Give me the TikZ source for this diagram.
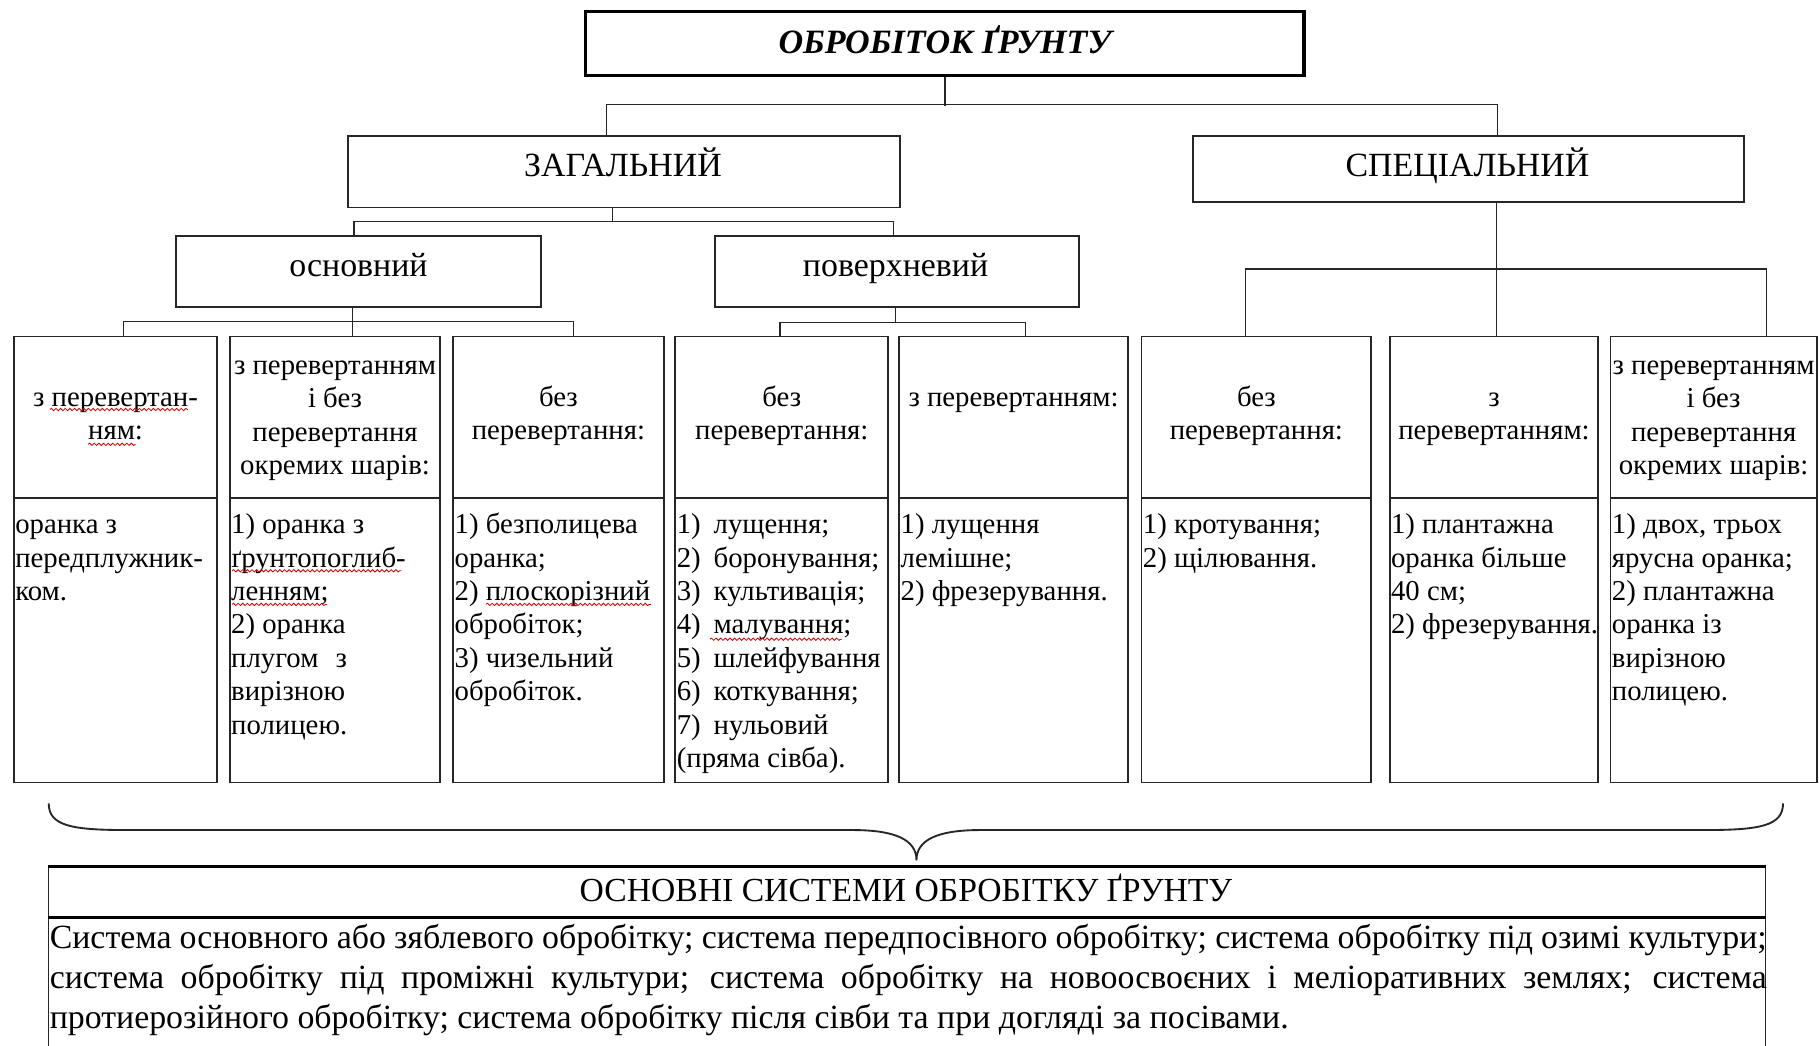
\documentclass[tikz,border=0pt]{standalone}
\usepackage{fontspec}
\setmainfont{Liberation Serif}
\usetikzlibrary{fit,decorations.pathmorphing}
\newcommand\mkcol[7]{%
  \node[bx,fit={(#2,290) (#3,429)}] (h#1) {};
  \node[bx,fit={(#2,429) (#3,674.5)}] (b#1) {};
  \node[headtxt] (ht#1) at ({(#2+#3)/2},#4) {\strut #5\strut};
  \node[bodytxt] (bt#1) at ({#2+#6},439.3) {\strut #7};
}
\begin{document}
\begin{tikzpicture}[x=0.5pt,y=-0.5pt,
  bx/.style={draw=black!85,line width=0.8pt,inner sep=0pt},
  topbx/.style={draw=black,line width=1.4pt,inner sep=0pt},
  conn/.style={draw=black!85,line width=0.6pt},
  lvl/.style={font=\fontsize{14.6}{17}\selectfont,anchor=base,inner sep=0pt},
  headtxt/.style={font=\fontsize{12.4}{14.4}\selectfont,align=center,inner sep=0pt},
  bodytxt/.style={font=\fontsize{12.4}{14.43}\selectfont,align=left,inner sep=0pt,
    anchor=north west},
  wavy/.style={draw=red!85!black,line width=0.35pt,decorate,
    decoration={snake,amplitude=0.5pt,segment length=2pt}},
]
\useasboundingbox (0,0) rectangle (1568,901);
\fill[white] (0,0) rectangle (1568,901);

% ---- upper levels
\node[topbx,fit={(505,10) (1124,65)}] (top) {};
\node[lvl,font=\fontsize{14.7}{17}\selectfont\bfseries\itshape] (topt) at (814.5,46) {ОБРОБІТОК ҐРУНТУ};

\node[bx,fit={(300,117.2) (776,178.8)}] (zag) {};
\node[lvl] (zagt) at (537,152) {ЗАГАЛЬНИЙ};
\node[bx,fit={(1028,117.2) (1503,174.4)}] (spec) {};
\node[lvl] (spect) at (1265,152) {СПЕЦІАЛЬНИЙ};

\node[bx,fit={(152,203.5) (466,264.8)}] (osn) {};
\node[lvl] (osnt) at (309,238.5) {основний};
\node[bx,fit={(616,203.5) (930,264.8)}] (pov) {};
\node[lvl] (povt) at (772,238.5) {поверхневий};

% ---- columns
\mkcol{1}{12.3}{186.9}{359}{з перевертан-\\ням:}{0.5}{оранка з\\передплужник-\\ком.}
\mkcol{2}{198.1}{379.5}{360}{з перевертанням\\і без\\перевертання\\окремих шарів:}{0.8}{1) оранка з\\ґрунтопоглиб-\\ленням;\\2) оранка\\плугом\hspace{0.6em}з\\вирізною\\полицею.}
\mkcol{3}{390.7}{572}{359}{без\\перевертання:}{0.8}{1) безполицева\\оранка;\\2) плоскорізний\\обробіток;\\3) чизельний\\обробіток.}
\mkcol{4}{582.2}{765.6}{359}{без\\перевертання:}{0.8}{1)\hspace{0.45em}лущення;\\2)\hspace{0.45em}боронування;\\3)\hspace{0.45em}культивація;\\4)\hspace{0.45em}малування;\\5)\hspace{0.45em}шлейфування\\6)\hspace{0.45em}коткування;\\7)\hspace{0.45em}нульовий\\(пряма сівба).}
\mkcol{5}{775.2}{972.1}{344.5}{з перевертанням:}{0.8}{1) лущення\\лемішне;\\2) фрезерування.}
\mkcol{6}{984}{1182}{359}{без\\перевертання:}{0.8}{1) кротування;\\2) щілювання.}
\mkcol{7}{1197.9}{1377.8}{359}{з\\перевертанням:}{0.8}{1) плантажна\\оранка більше\\40 см;\\2) фрезерування.}
\mkcol{8}{1388.3}{1566}{360}{з перевертанням\\і без\\перевертання\\окремих шарів:}{0.8}{1) двох, трьох\\ярусна оранка;\\2) плантажна\\оранка із\\вирізною\\полицею.}

% ---- connector points
\coordinate (zagin) at (523,117.2);
\coordinate (specin) at (1291,117.2);
\coordinate (zagout) at (528,178.8);
\coordinate (osnin) at (305,203.5);
\coordinate (povin) at (770,203.5);
\coordinate (osnout) at (304,264.8);
\coordinate (povout) at (771.9,264.8);
\coordinate (specout) at (1290,174.4);
\coordinate (h1in) at (106.6,290);
\coordinate (h2in) at (304,290);
\coordinate (h3in) at (494.2,290);
\coordinate (h4in) at (672.2,290);
\coordinate (h5in) at (884,290);
\coordinate (h6in) at (1073.7,290);
\coordinate (h7in) at (1290,290);
\coordinate (h8in) at (1522.6,290);

\draw[conn] (top.south) -- ++(0,25);
\draw[conn] (zagin) -- ++(0,-27.2) -| (specin);
\draw[conn] (zagout) -- ++(0,12.7);
\draw[conn] (osnin) -- ++(0,-12.5) -| (povin);
\draw[conn] (osnout) -- (h2in);
\draw[conn] (h1in) -- ++(0,-12.7) -| (h3in);
\draw[conn] (povout) -- ++(0,13.2);
\draw[conn] (h4in) -- ++(0,-12) -| (h5in);
\draw[conn] (specout) -- (h7in);
\draw[conn] (h6in) -- ++(0,-58) -| (h8in);

% ---- spell-check wavy marks
\draw[wavy] (43,353) -- (162,353);
\draw[wavy] (76,383) -- (117,383);
\draw[wavy] (200,492) -- (346,492);
\draw[wavy] (200,521) -- (282,521);
\draw[wavy] (419,521) -- (561,521);
\draw[wavy] (612,551) -- (726,551);

% ---- brace
\coordinate (brL) at (42,692.5);
\coordinate (brR) at (1537,692.5);
\coordinate (brT) at (790,741.5);
\draw[conn,line width=0.8pt] (brL) .. controls (42,712) and (62,715.5) .. (110,715.5)
  -- (735,715.5) .. controls (772,715.5) and (790,724) .. (brT)
  .. controls (790,724) and (808,715.5) .. (845,715.5)
  -- (1469,715.5) .. controls (1517,715.5) and (1537,712) .. (brR);

% ---- bottom box
\node[draw=black!85,line width=0.6pt,inner sep=0pt,fit={(42,747.5) (1522,790.5)}] (sysT) {};
\node[draw=black!85,line width=0.6pt,inner sep=0pt,fit={(42,790.5) (1522,930)}] (sysB) {};
\draw[line width=1.4pt] (sysT.north west) -- (sysT.north east);
\draw[line width=1.4pt] (sysT.south west) -- (sysT.south east);
\node[lvl,font=\fontsize{14.5}{17}\selectfont] (sysTt) at (781,777) {ОСНОВНІ СИСТЕМИ ОБРОБІТКУ ҐРУНТУ};
\node[anchor=north west,inner sep=0pt,align=left,font=\fontsize{14.6}{17.25}\selectfont]
  (sysBt) at (42.5,793)
  {\strut\makebox[740pt][s]{Система основного або зяблевого обробітку; система передпосівного обробітку; система обробітку під озимі культури;}\\
   \makebox[740pt][s]{система обробітку під проміжні культури; система обробітку на новоосвоєних і меліоративних землях; система}\\
   протиерозійного обробітку; система обробітку після сівби та при догляді за посівами.};
\end{tikzpicture}
\end{document}
